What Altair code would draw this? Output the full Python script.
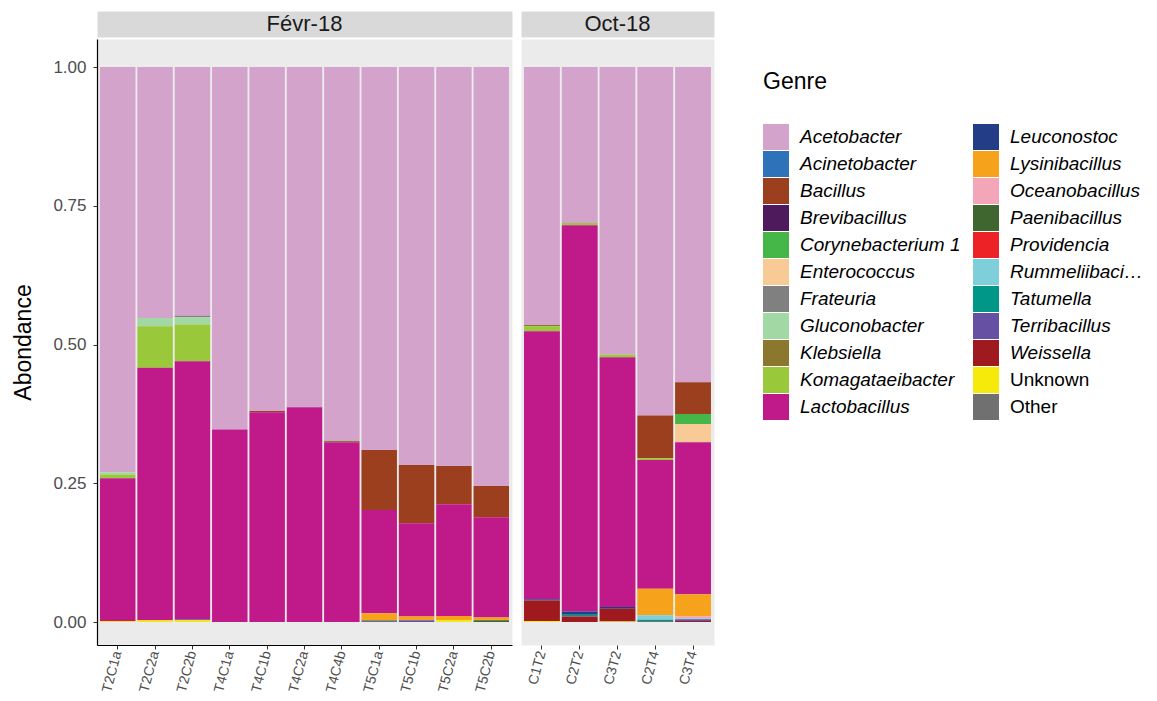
import altair as alt
import pandas as pd

samples_feb = ["T2C1a", "T2C2a", "T2C2b", "T4C1a", "T4C1b", "T4C2a", "T4C4b",
               "T5C1a", "T5C1b", "T5C2a", "T5C2b"]
samples_oct = ["C1T2", "C2T2", "C3T2", "C2T4", "C3T4"]
periods = ["Févr-18", "Oct-18"]

genres = ["Acetobacter", "Acinetobacter", "Bacillus", "Brevibacillus", "Corynebacterium 1",
          "Enterococcus", "Frateuria", "Gluconobacter", "Klebsiella", "Komagataeibacter",
          "Lactobacillus", "Leuconostoc", "Lysinibacillus", "Oceanobacillus", "Paenibacillus",
          "Providencia", "Rummeliibacillus", "Tatumella", "Terribacillus", "Weissella",
          "Unknown", "Other"]
colors = ["#D4A3CB", "#2E73BA", "#9C3F1F", "#4F1A5C", "#45B648",
          "#F8CB96", "#808080", "#A2D8A4", "#8B772E", "#99C83A",
          "#C0198A", "#233E86", "#F7A21B", "#F4A6B9", "#3F662E",
          "#EC2227", "#7FCFDB", "#009688", "#6550A3", "#9E1A1E",
          "#F5EA0A", "#707070"]

# values per sample, order: samples_feb + samples_oct
Acetobacter = [0.730, 0.452, 0.448, 0.653, 0.620, 0.613, 0.674, 0.690, 0.717, 0.719, 0.755,
               0.465, 0.281, 0.518, 0.628, 0.568]
Acinetobacter = [0] * 16
Bacillus = [0, 0, 0, 0, 0.002, 0, 0, 0.108, 0.105, 0.069, 0.056, 0, 0, 0, 0.077, 0.057]
Brevibacillus = [0] * 16
Corynebacterium = [0, 0, 0, 0, 0, 0, 0, 0, 0, 0, 0, 0, 0, 0, 0, 0.018]
Enterococcus = [0, 0, 0, 0, 0, 0, 0, 0, 0, 0, 0, 0, 0, 0, 0, 0.033]
Frateuria = [0, 0, 0.003, 0, 0, 0, 0, 0, 0, 0, 0, 0, 0, 0, 0, 0]
Gluconobacter = [0.004, 0.015, 0.013, 0, 0, 0, 0, 0, 0, 0, 0, 0, 0, 0, 0, 0]
Klebsiella = [0, 0, 0, 0, 0, 0, 0.002, 0, 0, 0, 0, 0.002, 0, 0, 0, 0]
Komagataeibacter = [0.007, 0.075, 0.066, 0, 0, 0, 0, 0, 0, 0, 0, 0.009, 0.004, 0.005, 0.003, 0]
Lactobacillus = [0.257, 0.455, 0.465, 0.347, 0.378, 0.387, 0.324, 0.186, 0.168, 0.201, 0.181,
                 0.483, 0.696, 0.450, 0.232, 0.274]
Leuconostoc = [0, 0, 0, 0, 0, 0, 0, 0, 0, 0, 0, 0.002, 0.006, 0.003, 0, 0]
Lysinibacillus = [0, 0, 0, 0, 0, 0, 0, 0.013, 0.007, 0.008, 0.005, 0, 0, 0, 0.048, 0.040]
Oceanobacillus = [0, 0, 0, 0, 0, 0, 0, 0, 0, 0, 0, 0, 0, 0, 0, 0.003]
Paenibacillus = [0, 0, 0, 0, 0, 0, 0, 0, 0, 0, 0.003, 0, 0, 0, 0, 0]
Providencia = [0] * 16
Rummeliibacillus = [0, 0, 0, 0, 0, 0, 0, 0, 0, 0, 0, 0, 0, 0, 0.008, 0.002]
Tatumella = [0, 0, 0, 0, 0, 0, 0, 0, 0, 0, 0, 0, 0.003, 0, 0.002, 0]
Terribacillus = [0, 0, 0.002, 0, 0, 0, 0, 0, 0.003, 0, 0, 0, 0, 0, 0, 0.003]
Weissella = [0, 0, 0, 0, 0, 0, 0, 0, 0, 0, 0, 0.037, 0.010, 0.023, 0, 0.002]
Unknown = [0.002, 0.003, 0.003, 0, 0, 0, 0, 0, 0, 0.003, 0, 0.002, 0, 0.001, 0, 0]
Other = [0, 0, 0, 0, 0, 0, 0, 0.003, 0, 0, 0, 0, 0, 0, 0.002, 0]

series = [Acetobacter, Acinetobacter, Bacillus, Brevibacillus, Corynebacterium, Enterococcus,
          Frateuria, Gluconobacter, Klebsiella, Komagataeibacter, Lactobacillus, Leuconostoc,
          Lysinibacillus, Oceanobacillus, Paenibacillus, Providencia, Rummeliibacillus,
          Tatumella, Terribacillus, Weissella, Unknown, Other]

all_samples = samples_feb + samples_oct
rows = []
for gi, (g, vals) in enumerate(zip(genres, series)):
    for si, s in enumerate(all_samples):
        if vals[si] > 0:
            rows.append({"sample": s, "genre": g, "value": vals[si], "gidx": gi,
                         "period": periods[0] if s in samples_feb else periods[1]})
df = pd.DataFrame(rows)

FONT = "Liberation Sans"
PANEL_H = 606
STRIP_H = 26


def panel(period, samples, width, first):
    x_axis = alt.Axis(title=None, labelAngle=285, labelFontSize=14, labelColor="#4D4D4D",
                      labelFont=FONT, tickColor="#333333", tickSize=4,
                      domain=first, domainColor="#000000", domainWidth=1.2,
                      labelPadding=2, grid=False)
    if first:
        y_axis = alt.Axis(title="Abondance", values=[0, 0.25, 0.5, 0.75, 1.0], format=".2f",
                          labelFontSize=17, labelColor="#4D4D4D", labelFont=FONT,
                          labelPadding=7,
                          tickColor="#333333", tickSize=4, domainColor="#000000",
                          domainWidth=1.2, grid=False, titleFontSize=23,
                          titleFontWeight="normal", titleColor="#000000", titleFont=FONT,
                          titlePadding=17)
    else:
        y_axis = None
    bars = alt.Chart(df[df["period"] == period]).mark_bar().encode(
        x=alt.X("sample:N", sort=samples,
                scale=alt.Scale(paddingInner=0.05, paddingOuter=0.08), axis=x_axis),
        y=alt.Y("value:Q", stack="zero",
                scale=alt.Scale(domain=[-0.0414, 1.0505], nice=False, zero=False),
                axis=y_axis),
        color=alt.Color("genre:N",
                        scale=alt.Scale(domain=genres, range=colors),
                        legend=alt.Legend(
                            title="Genre", orient="none", legendX=666, legendY=60,
                            columns=2, direction="vertical", symbolType="square",
                            symbolSize=676, symbolStrokeWidth=0, symbolOpacity=1,
                            rowPadding=1, columnPadding=12, labelOffset=11,
                            labelFontSize=19, labelFont=FONT, labelColor="#000000",
                            labelLimit={"expr": "datum.label == 'Rummeliibacillus' ? 137 : 400"},
                            labelFontStyle={"expr": "datum.label == 'Unknown' || datum.label == 'Other' ? 'normal' : 'italic'"},
                            titleFontSize=23, titleFontWeight="normal", titleFont=FONT,
                            titleColor="#000000", titlePadding=30)),
        order=alt.Order("gidx:Q", sort="descending"),
        tooltip=["sample:N", "genre:N", "value:Q"],
    ).properties(width=width, height=PANEL_H,
                 view=alt.ViewBackground(fill="#EBEBEB", stroke="transparent"))

    strip = alt.Chart(pd.DataFrame({"label": [period]})).mark_text(
        fontSize=22, font=FONT, color="#1A1A1A", baseline="middle", align="center"
    ).encode(text="label:N").properties(
        width=width, height=STRIP_H,
        view=alt.ViewBackground(fill="#D9D9D9", stroke="transparent"))
    return alt.vconcat(strip, bars, spacing=0)


chart = alt.hconcat(
    panel(periods[0], samples_feb, 415, True),
    panel(periods[1], samples_oct, 193, False),
    spacing=7,
).resolve_scale(x="independent", y="shared", color="shared").properties(
    padding={"left": 4, "top": 2, "right": 0, "bottom": 0}
).configure(font=FONT, background="#FFFFFF")

chart.save("out.html", embed_options={"renderer": "svg", "actions": False})
